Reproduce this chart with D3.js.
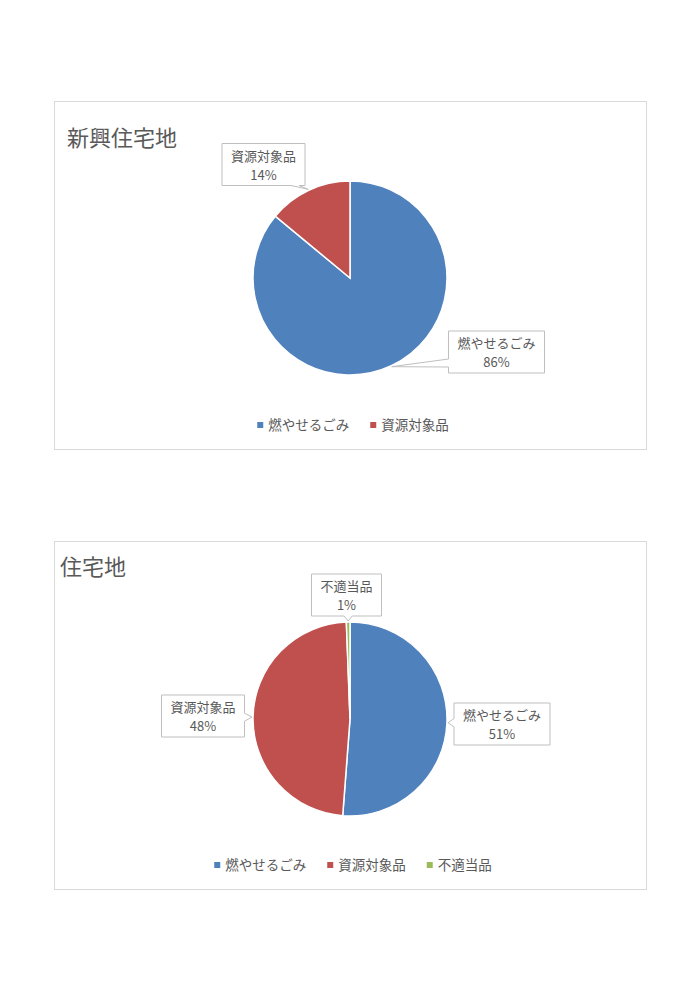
<!DOCTYPE html>
<html>
<head>
<meta charset="utf-8">
<script src="https://cdn.jsdelivr.net/npm/d3@7"></script>
<style>
  body { margin: 0; background: #fff; }
  text { font-family: "Noto Sans CJK JP", "Noto Sans", sans-serif; fill: #595959; }
</style>
</head>
<body>
<div id="app"></div>
<script>
// data
const titles = ["新興住宅地", "住宅地"];
const categories1 = ["燃やせるごみ", "資源対象品"];
const values1 = [86, 14];
const categories2 = ["燃やせるごみ", "資源対象品", "不適当品"];
const values2 = [51.2, 48.2, 0.6];
const colors = ["#4F81BD", "#C0504D", "#9BBB59"];

const width = 700;
const height = 990;
const radius = 97;

// layout of each chart frame (position of frame, title, pie and label boxes)
const layouts = [
  { x: 54, y: 101, w: 592, h: 348, titleX: 13, titleY: 45, cx: 296, cy: 177,
    boxes: [[146.5, 74], [-86.5, -113.5]] },
  { x: 54, y: 541, w: 592, h: 348, titleX: 6, titleY: 34, cx: 296, cy: 178,
    boxes: [[152, 5], [-147, -3], [-3.5, -124]] }
];

const svg = d3.select('#app')
  .append('svg')
  .attr('width', width)
  .attr('height', height)

svg.append('rect').attr('width', width).attr('height', height).attr('fill', '#fff')

const pie = d3.pie().sort(null).value(d => d.value)
const arc = d3.arc().innerRadius(0).outerRadius(radius)

function callout(x0, y0, x1, y1, tx, ty) {
  // rectangle with a wedge pointing to (tx, ty)
  const hw = 4
  const clamp = (v, a, b) => Math.max(a, Math.min(b, v))
  let pts
  if (ty > y1) {
    const m = clamp(tx, x0 + 10, x1 - 10)
    pts = [[x0, y0], [x1, y0], [x1, y1], [m + hw, y1], [tx, ty], [m - hw, y1], [x0, y1]]
  } else if (ty < y0) {
    const m = clamp(tx, x0 + 10, x1 - 10)
    pts = [[x0, y0], [m - hw, y0], [tx, ty], [m + hw, y0], [x1, y0], [x1, y1], [x0, y1]]
  } else if (tx < x0) {
    const m = clamp(ty, y0 + 10, y1 - 10)
    pts = [[x0, y0], [x1, y0], [x1, y1], [x0, y1], [x0, m + hw], [tx, ty], [x0, m - hw]]
  } else {
    const m = clamp(ty, y0 + 10, y1 - 10)
    pts = [[x0, y0], [x1, y0], [x1, m - hw], [tx, ty], [x1, m + hw], [x1, y1], [x0, y1]]
  }
  return 'M' + pts.map(p => p.join(',')).join('L') + 'Z'
}

function drawChart(title, cats, vals, lay) {
  const data = cats.map((c, i) => ({ name: c, value: vals[i], color: colors[i] }))
  const total = d3.sum(vals)
  const g = svg.append('g').attr('transform', `translate(${lay.x},${lay.y})`)

  g.append('rect')
    .attr('x', 0.5).attr('y', 0.5)
    .attr('width', lay.w).attr('height', lay.h)
    .attr('fill', '#fff')
    .attr('stroke', '#d9d9d9')

  g.append('text')
    .attr('x', lay.titleX).attr('y', lay.titleY)
    .attr('font-size', 22)
    .text(title)

  const pg = g.append('g').attr('transform', `translate(${lay.cx},${lay.cy})`)
  const arcs = pie(data)

  pg.selectAll('path.slice')
    .data(arcs)
    .join('path')
    .attr('class', 'slice')
    .attr('d', arc)
    .attr('fill', d => d.data.color)
    .attr('stroke', '#fff')
    .attr('stroke-width', 1.5)

  // data label callouts
  arcs.forEach((d, i) => {
    const mid = (d.startAngle + d.endAngle) / 2
    const tx = Math.sin(mid) * (radius + 1)
    const ty = -Math.cos(mid) * (radius + 1)
    const [bx, by] = lay.boxes[i]
    const lbl = pg.append('g')
    const t1 = lbl.append('text')
      .attr('x', bx).attr('y', by - 4)
      .attr('text-anchor', 'middle')
      .attr('font-size', 13)
      .text(d.data.name)
    lbl.append('text')
      .attr('x', bx).attr('y', by + 15)
      .attr('text-anchor', 'middle')
      .attr('font-size', 13)
      .text(Math.round(d.data.value / total * 100) + '%')
    const bw = t1.node().getComputedTextLength() + 18
    const bh = 42
    lbl.insert('path', 'text')
      .attr('d', callout(bx - bw / 2, by - bh / 2, bx + bw / 2, by + bh / 2, tx, ty))
      .attr('fill', '#fff')
      .attr('stroke', '#bfbfbf')
      .attr('stroke-width', 1)
  })

  // legend
  const leg = g.append('g').attr('transform', `translate(0,${lay.y === 101 ? 324 : 324})`)
  const items = leg.selectAll('g.item')
    .data(data)
    .join('g')
    .attr('class', 'item')
  items.append('rect')
    .attr('width', 6).attr('height', 6)
    .attr('y', -3)
    .attr('fill', d => d.color)
  items.append('text')
    .attr('x', 11).attr('y', 5)
    .attr('font-size', 13.5)
    .text(d => d.name)
  let cur = 0
  const gap = 21
  items.each(function () {
    const w = this.getBBox().width
    d3.select(this).attr('data-x', cur)
    cur += w + gap
  })
  const totalW = cur - gap
  const start = lay.cx + 3 - totalW / 2
  items.attr('transform', function () {
    return `translate(${start + (+this.getAttribute('data-x'))},0)`
  })
}

drawChart(titles[0], categories1, values1, layouts[0])
drawChart(titles[1], categories2, values2, layouts[1])
</script>
</body>
</html>
